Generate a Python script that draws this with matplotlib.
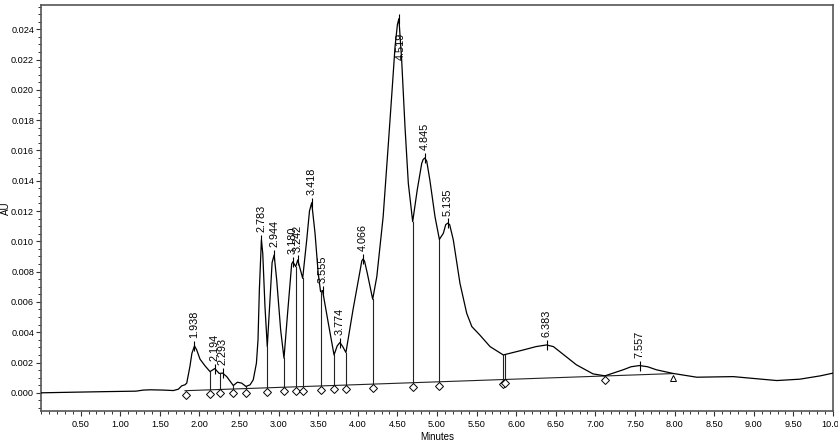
import numpy as np
import matplotlib
matplotlib.use("Agg")
import matplotlib.pyplot as plt
from matplotlib.ticker import MultipleLocator, FormatStrFormatter
from matplotlib.transforms import offset_copy

plt.rcParams['font.family'] = ['Liberation Sans', 'DejaVu Sans']

# ---- chromatogram trace (minutes, AU x 1e-3) ----
trace_t = [0.00, 0.40, 0.83, 1.20, 1.29, 1.38, 1.55, 1.67, 1.735, 1.776, 1.818, 1.84,
           1.88, 1.905, 1.938, 1.966, 2.008, 2.071, 2.134, 2.194, 2.25, 2.293, 2.345,
           2.428, 2.48, 2.534, 2.588, 2.64, 2.68, 2.72, 2.74, 2.757, 2.774, 2.783, 2.80,
           2.828, 2.857, 2.891, 2.918, 2.944, 2.976, 3.026, 3.068, 3.11, 3.165, 3.180,
           3.216, 3.242, 3.304, 3.355, 3.39, 3.418, 3.46, 3.50, 3.53, 3.555, 3.628, 3.70,
           3.74, 3.774, 3.81, 3.85, 3.94, 4.03, 4.05, 4.066, 4.085, 4.12, 4.188, 4.24,
           4.32, 4.386, 4.43, 4.47, 4.50, 4.519, 4.554, 4.596, 4.638, 4.693, 4.75, 4.807,
           4.825, 4.845, 4.87, 4.91, 4.975, 5.03, 5.08, 5.11, 5.135, 5.16, 5.206, 5.29,
           5.375, 5.44, 5.54, 5.67, 5.837, 6.09, 6.25, 6.383, 6.47, 6.55, 6.76, 6.97,
           7.12, 7.35, 7.45, 7.557, 7.66, 7.77, 7.98, 8.28, 8.74, 8.95, 9.29,
           9.58, 9.84, 10.0]
trace_au = [0.00, 0.04, 0.08, 0.11, 0.18, 0.20, 0.18, 0.15, 0.24, 0.46, 0.53, 0.64,
            1.73, 2.60, 3.10, 2.83, 2.22, 1.78, 1.40, 1.60, 1.28, 1.30, 1.07,
            0.48, 0.70, 0.64, 0.42, 0.53, 0.86, 1.96, 3.50, 6.79, 8.98, 10.10, 9.20,
            5.69, 3.05, 6.13, 8.60, 9.10, 7.45, 4.15, 2.29, 5.03, 8.50, 8.65,
            8.33, 8.77, 7.56, 10.09, 12.00, 12.55, 10.53, 7.89, 6.68, 6.75, 4.59, 2.50,
            3.10, 3.32, 3.05, 2.66, 5.50, 8.10, 8.70, 8.83, 8.70, 7.89, 6.18, 7.67,
            11.62, 16.46, 19.76, 22.83, 24.30, 24.70, 21.95, 17.55, 13.82, 11.30, 13.38, 15.14,
            15.40, 15.50, 15.30, 14.04, 11.62, 10.13, 10.53, 11.10, 11.20, 11.10, 10.09, 7.23,
            5.25, 4.37, 3.82, 3.05, 2.50, 2.83, 3.05, 3.16, 3.05, 2.72, 1.85, 1.25,
            1.12, 1.52, 1.72, 1.80, 1.72, 1.52, 1.28, 1.03, 1.07, 0.97, 0.81,
            0.90, 1.12, 1.30]

# ---- integrated peaks ----
peak_labels = ["1.938", "2.194", "2.293", "2.783", "2.944", "3.180", "3.242", "3.418",
               "3.555", "3.774", "4.066", "4.519", "4.845", "5.135", "6.383", "7.557"]
peak_t = [1.938, 2.194, 2.293, 2.783, 2.944, 3.180, 3.242, 3.418,
          3.555, 3.774, 4.066, 4.519, 4.845, 5.135, 6.383, 7.557]
peak_au = [3.10, 1.60, 1.30, 10.10, 9.10, 8.65, 8.77, 12.55,
           6.75, 3.32, 8.83, 24.70, 15.50, 11.20, 3.16, 1.80]

# ---- baseline and drop lines ----
base_t = [1.818, 7.98]
base_au = [0.14, 1.27]
drop_t = [2.134, 2.264, 2.428, 2.588, 2.857, 3.068, 3.216, 3.304, 3.53, 3.70, 3.85,
          4.188, 4.693, 5.03, 5.83, 5.86]
drop_au = [1.40, 1.27, 0.48, 0.42, 3.05, 2.29, 8.33, 7.56, 6.68, 2.50, 2.66,
           6.18, 11.30, 10.13, 2.50, 2.52]
diamond_t = [1.826] + drop_t + [7.12]
triangle_t = [7.98]

scale = 1e-3
fig = plt.figure(figsize=(8.38, 4.44), dpi=100)
ax = fig.add_axes([41/838, 1 - 411/444, (833-41)/838, (411-5)/444])

ax.plot(base_t, np.array(base_au)*scale, color='#222222', lw=0.8, zorder=2)
drop_base = np.interp(drop_t, base_t, base_au)
for t, top, b in zip(drop_t, drop_au, drop_base):
    ax.plot([t, t], [b*scale, top*scale], color='#222222', lw=0.8, zorder=2)

ax.plot(trace_t, np.array(trace_au)*scale, color='black', lw=0.9, zorder=3)

# peak apex ticks and labels
ax.plot(peak_t, np.array(peak_au)*scale, ls='none', marker='|', ms=6.5,
        mew=0.8, color='black', zorder=4)
for lab, t, h in zip(peak_labels, peak_t, peak_au):
    if h*scale > 0.021:
        ax.annotate(lab, xy=(t, h*scale), xytext=(1, -10), textcoords='offset points',
                    rotation=90, ha='center', va='top', fontsize=7.8)
    else:
        ax.annotate(lab, xy=(t, h*scale), xytext=(0, 5.5), textcoords='offset points',
                    rotation=90, ha='center', va='bottom', fontsize=7.8)

# markers hanging below the baseline
mtrans = offset_copy(ax.transData, fig=fig, x=0, y=-4, units='dots')
ax.plot(diamond_t, np.interp(diamond_t, base_t, base_au)*scale, ls='none', marker='D',
        ms=3.9, mfc='white', mec='black', mew=0.7, transform=mtrans, zorder=5,
        clip_on=False)
ax.plot(triangle_t, np.interp(triangle_t, base_t, base_au)*scale, ls='none', marker='^',
        ms=5, mfc='white', mec='black', mew=0.7, transform=mtrans, zorder=5,
        clip_on=False)

ax.set_xlim(0, 10)
ax.set_ylim(-0.0012, 0.0256)
ax.set_xticks(np.arange(0.5, 10.01, 0.5))
ax.xaxis.set_major_formatter(FormatStrFormatter('%.2f'))
ax.xaxis.set_minor_locator(MultipleLocator(0.1))
ax.set_yticks(np.arange(0, 0.0241, 0.002))
ax.yaxis.set_major_formatter(FormatStrFormatter('%.3f'))
ax.yaxis.set_minor_locator(MultipleLocator(0.0005))
ax.tick_params(axis='both', which='major', direction='out', length=3.5, width=0.8,
               labelsize=6.6, pad=1.5, color='#333333')
ax.tick_params(axis='both', which='minor', direction='out', length=2, width=0.7,
               color='#333333')
ax.tick_params(axis='x', pad=3)
for s in ax.spines.values():
    s.set_color('#555555')
    s.set_linewidth(1.2)

ax.set_xlabel('Minutes', fontsize=7, labelpad=2)
ax.set_ylabel('AU', fontsize=7)
ax.yaxis.set_label_coords(-0.038, 0.5)

fig.savefig('out.png', dpi=100)
